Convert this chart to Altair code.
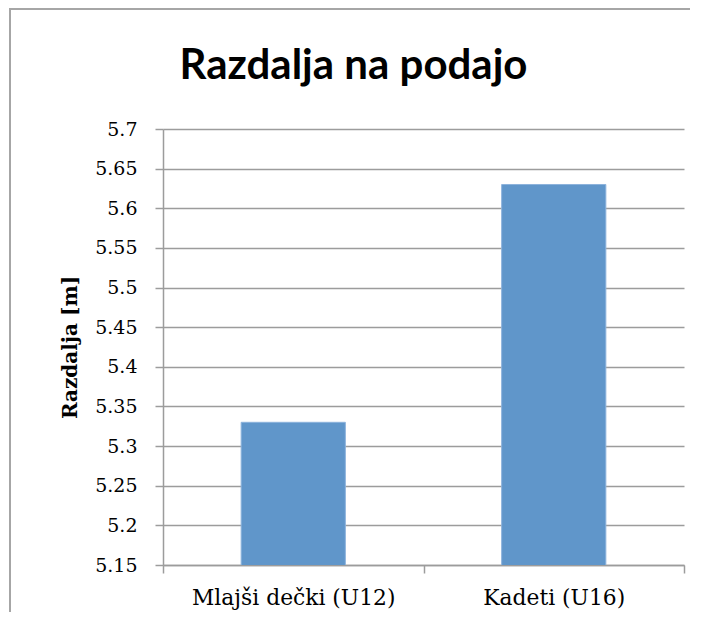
import altair as alt
import pandas as pd

# ---- data ----
categories = ["Mlajši dečki (U12)", "Kadeti (U16)"]
values = [5.33, 5.63]
y_ticks = [5.15, 5.2, 5.25, 5.3, 5.35, 5.4, 5.45, 5.5, 5.55, 5.6, 5.65, 5.7]
y_domain = [5.15, 5.7]
chart_title = "Razdalja na podajo"
y_title = "Razdalja [m]"

df = pd.DataFrame({"cat": categories, "val": values})

W, H = 521, 436
PAD = {"left": 155, "top": 121, "right": 15, "bottom": 47}
GRAY = "#9c9c9c"
FRAME = "#a6a6a6"

bars = alt.Chart(df).mark_bar(
    color="#6096CA", width=alt.RelativeBandSize(0.4), clip=True,
    stroke="#8db3dc", strokeWidth=1
).encode(
    x=alt.X("cat:N", sort=categories,
            scale=alt.Scale(paddingInner=0, paddingOuter=0),
            axis=alt.Axis(title=None, tickBand="extent", labelAngle=0,
                          labelFont="DejaVu Serif", labelFontSize=21.8,
                          labelColor="black", labelPadding=14, tickSize=8,
                          labelLimit=0,
                          grid=False, domainColor=GRAY, tickColor=GRAY,
                          domainWidth=1.5, tickWidth=1.5)),
    y=alt.Y("val:Q",
            scale=alt.Scale(domain=y_domain, zero=False, nice=False),
            axis=alt.Axis(values=y_ticks, format=".2~f", title=y_title,
                          labelFont="DejaVu Serif", labelFontSize=19,
                          labelColor="black", labelPadding=18, tickSize=8,
                          titleFont="DejaVu Serif", titleFontSize=20,
                          titleFontWeight="bold", titleColor="black",
                          titlePadding=14, grid=True, gridColor=GRAY,
                          gridWidth=1.5, domainColor=GRAY, tickColor=GRAY,
                          domainWidth=1.5, tickWidth=1.5))
)

frame_src = alt.Chart(pd.DataFrame({"k": [0]}))
left_border = frame_src.mark_rule(color=FRAME, strokeWidth=2).encode(
    x=alt.value(-153), y=alt.value(-121), y2=alt.value(H + PAD["bottom"])
)
top_border = frame_src.mark_rule(color=FRAME, strokeWidth=2).encode(
    x=alt.value(-154), x2=alt.value(W + 6), y=alt.value(-120)
)

chart = alt.layer(bars, left_border, top_border).properties(
    width=W, height=H,
    title=alt.TitleParams(text=chart_title, font="Lato", fontSize=42,
                          fontWeight="bold", color="black", anchor="middle",
                          dx=-70, baseline="alphabetic", offset=-114),
    autosize=alt.AutoSizeParams(type="none"),
    padding=PAD,
).configure_view(stroke=None)

chart.save("out.html", embed_options={"renderer": "svg", "actions": False})
